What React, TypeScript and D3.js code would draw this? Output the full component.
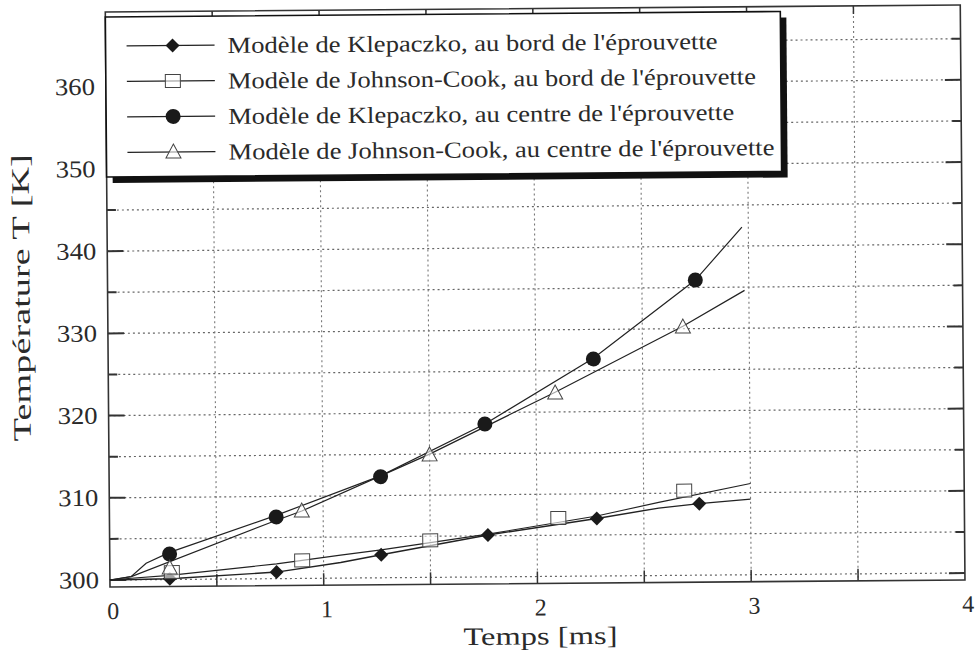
import React from "react";
import * as d3 from "d3";

const W = 978;
const H = 662;

// model curves (time in ms, temperature in K)
const kBordLineT = [0, 0.28, 0.78, 1.08, 1.27, 1.77, 2.28, 2.57, 2.76, 3.0];
const kBordLineV = [300, 300.1, 300.8, 301.9, 302.8, 305.1, 307.0, 308.2, 308.7, 309.2];
const jcBordLineT = [0, 0.1, 0.28, 0.78, 1.08, 1.27, 1.77, 2.28, 2.57, 3.0];
const jcBordLineV = [300, 300.2, 300.5, 301.8, 302.8, 303.4, 305.2, 307.3, 308.9, 311.1];
const kCentreLineT = [0, 0.1, 0.17, 0.28, 0.78, 1.27, 1.76, 2.27, 2.75, 2.97];
const kCentreLineV = [300, 300.4, 302.0, 303.3, 307.7, 312.4, 318.6, 326.5, 335.9, 342.3];
const jcCentreLineT = [0, 0.1, 0.76, 0.9, 1.5, 2.09, 2.69, 2.98];
const jcCentreLineV = [300, 300.4, 306.9, 308.2, 315.0, 322.4, 330.3, 334.6];

// markers
const kBordMarkT = [0.28, 0.78, 1.27, 1.77, 2.28, 2.76];
const kBordMarkV = [300.1, 300.8, 302.8, 305.1, 307.0, 308.7];
const jcBordMarkT = [0.29, 0.9, 1.5, 2.1, 2.69];
const jcBordMarkV = [300.9, 302.2, 304.5, 307.1, 310.3];
const kCentreMarkT = [0.28, 0.78, 1.27, 1.76, 2.27, 2.75];
const kCentreMarkV = [303.1, 307.5, 312.3, 318.6, 326.4, 335.9];
const jcCentreMarkT = [0.28, 0.9, 1.5, 2.09, 2.69];
const jcCentreMarkV = [301.4, 308.2, 314.9, 322.3, 330.2];

const xTicks = [0, 1, 2, 3, 4];
const yTicks = [300, 310, 320, 330, 340, 350, 360];
const xGrid = [0.5, 1, 1.5, 2, 2.5, 3, 3.5];
const yGrid = [300, 305, 310, 315, 320, 325, 330, 335, 340, 345, 350, 355, 360, 365];

const legendLabels = [
  "Modèle de Klepaczko, au bord de l'éprouvette",
  "Modèle de Johnson-Cook, au bord de l'éprouvette",
  "Modèle de Klepaczko, au centre de l'éprouvette",
  "Modèle de Johnson-Cook, au centre de l'éprouvette",
];
const legendWidths = [490, 528, 506, 546];
const markerKinds = ["diamond", "square", "circle", "triangle"];

const font = "'Liberation Serif', 'Times New Roman', serif";
const ink = "#1a1a1a";
const textInk = "#2a2a2a";

function Marker({ kind, cx, cy }: { kind: string; cx: number; cy: number }) {
  if (kind === "circle") return <circle cx={cx} cy={cy} r={7.5} fill={ink} />;
  if (kind === "diamond") {
    const r = 7;
    return (
      <path d={`M${cx},${cy - r}L${cx + r},${cy}L${cx},${cy + r}L${cx - r},${cy}Z`} fill={ink} />
    );
  }
  if (kind === "square")
    return <rect x={cx - 7.5} y={cy - 6.5} width={15} height={13} fill="white" fillOpacity={0.6} stroke="#444" strokeWidth={1} />;
  // triangle
  return (
    <path
      d={`M${cx},${cy - 8}L${cx + 7.5},${cy + 6}L${cx - 7.5},${cy + 6}Z`}
      fill="white"
      fillOpacity={0.6}
      stroke="#444"
      strokeWidth={1}
    />
  );
}

export default function App() {
  const x = d3.scaleLinear().domain([0, 4]).range([110, 965]);
  const y = d3.scaleLinear().domain([299.15, 369.1]).range([587, 12]);
  const line = d3
    .line<[number, number]>()
    .x((d) => x(d[0]))
    .y((d) => y(d[1]));

  const series = [
    { lt: kBordLineT, lv: kBordLineV, mt: kBordMarkT, mv: kBordMarkV, kind: "diamond", w: 1.4 },
    { lt: jcBordLineT, lv: jcBordLineV, mt: jcBordMarkT, mv: jcBordMarkV, kind: "square", w: 1.1 },
    { lt: kCentreLineT, lv: kCentreLineV, mt: kCentreMarkT, mv: kCentreMarkV, kind: "circle", w: 1.2 },
    { lt: jcCentreLineT, lv: jcCentreLineV, mt: jcCentreMarkT, mv: jcCentreMarkV, kind: "triangle", w: 1.2 },
  ];

  const x0 = x(0), x1 = x(4), yb = y.range()[0], yt = y.range()[1];

  return (
    <svg width={W} height={H} style={{ position: "absolute", left: 0, top: 0, background: "white" }}>
      <rect width={W} height={H} fill="white" />
      <g transform="rotate(-0.47 110 587)" fontFamily={font} fill={textInk}>
        {/* grid */}
        {yGrid.map((v) => (
          <line key={"hy" + v} x1={x0} x2={x1} y1={y(v)} y2={y(v)} stroke="#666" strokeWidth={1.2} strokeDasharray="2,3" />
        ))}
        {xGrid.map((t) => (
          <line key={"vx" + t} x1={x(t)} x2={x(t)} y1={yt} y2={yb} stroke="#777" strokeWidth={1.1} strokeDasharray="2,3" />
        ))}
        {/* axis ticks */}
        {yGrid.map((v) => {
          const len = v % 10 === 0 ? 16 : 9;
          return (
            <g key={"ty" + v} stroke="#333" strokeWidth={2}>
              <line x1={x0} x2={x0 + len} y1={y(v)} y2={y(v)} />
              <line x1={x1 - len} x2={x1} y1={y(v)} y2={y(v)} />
            </g>
          );
        })}
        {xGrid.map((t) => (
          <g key={"tx" + t} stroke="#333" strokeWidth={1.5}>
            <line x1={x(t)} x2={x(t)} y1={yb} y2={yb - 12} />
            <line x1={x(t)} x2={x(t)} y1={yt} y2={yt + 8} />
          </g>
        ))}
        {/* frame */}
        <rect x={x0} y={yt} width={x1 - x0} height={yb - yt} fill="none" stroke="#333" strokeWidth={1.6} />

        {/* curves */}
        {series.map((s, i) => (
          <path
            key={"l" + i}
            d={line(s.lt.map((t, j) => [t, s.lv[j]] as [number, number])) || ""}
            fill="none"
            stroke="#222"
            strokeWidth={s.w}
          />
        ))}
        {series.map((s, i) =>
          s.mt.map((t, j) => <Marker key={"m" + i + "-" + j} kind={s.kind} cx={x(t)} cy={y(s.mv[j])} />)
        )}

        {/* legend */}
        <rect x={116} y={23} width={675} height={160} fill="#111" />
        <rect x={110} y={17} width={675} height={160} fill="white" stroke="#111" strokeWidth={1.6} />
        {legendLabels.map((lab, i) => {
          const ly = 46 + i * 35.5;
          return (
            <g key={"lg" + i}>
              <line x1={131} x2={219} y1={ly} y2={ly} stroke="#222" strokeWidth={1.3} />
              <Marker kind={markerKinds[i]} cx={177} cy={ly} />
              <text
                x={232}
                y={ly + 8}
                fontSize={23}
                textLength={legendWidths[i]}
                lengthAdjust="spacingAndGlyphs"
              >
                {lab}
              </text>
            </g>
          );
        })}

        {/* tick labels */}
        {yTicks.map((v) => (
          <text key={"yl" + v} x={99} y={y(v) + 8} fontSize={24} textAnchor="end" textLength={40} lengthAdjust="spacingAndGlyphs">
            {v}
          </text>
        ))}
        {xTicks.map((t) => (
          <text key={"xl" + t} x={x(t) + 3} y={619} fontSize={24} textAnchor="middle">
            {t}
          </text>
        ))}

        {/* axis titles */}
        <text x={540} y={648} fontSize={25} textAnchor="middle" textLength={154} lengthAdjust="spacingAndGlyphs">
          Temps [ms]
        </text>
        <text
          transform="translate(32,297) rotate(-90)"
          fontSize={25}
          textAnchor="middle"
          textLength={287}
          lengthAdjust="spacingAndGlyphs"
        >
          Température T [K]
        </text>
      </g>
    </svg>
  );
}
